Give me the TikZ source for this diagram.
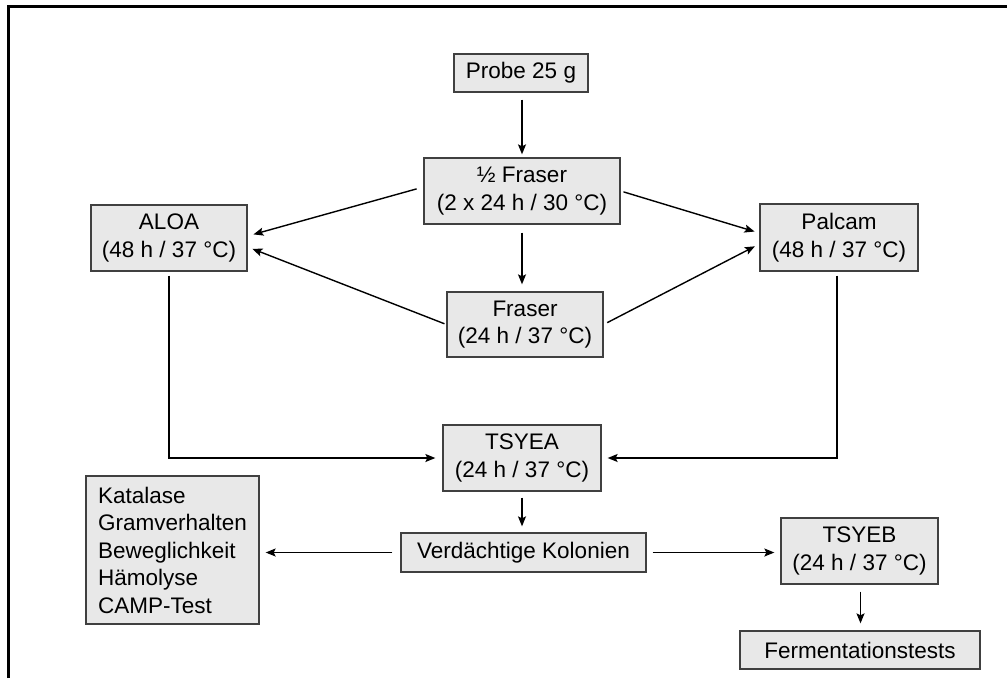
\documentclass[tikz,border=0pt]{standalone}
\usepackage{fontspec}
\setmainfont{Liberation Sans}
\usetikzlibrary{arrows.meta,calc}
\definecolor{boxfill}{HTML}{E8E8E8}
\definecolor{boxline}{HTML}{404040}
\begin{document}
\begin{tikzpicture}[x=1pt,y=-1pt,
  box/.style={draw=boxline, fill=boxfill, line width=1.3pt, inner sep=0pt, align=center,
    font=\fontsize{22.5}{27.5}\selectfont},
  arr/.style={line width=1.4pt, -{Stealth[length=10pt,width=8pt,inset=2pt]}},
  ln/.style={line width=1.4pt}]
\useasboundingbox (0,0) rectangle (1007,678);
\fill[white] (0,0) rectangle (1007,678);
% frame
\coordinate (fTL) at (8.3,6.7);
\coordinate (fTR) at (1007,6.7);
\coordinate (fBL) at (8.3,678);
\draw[line width=2.5pt] (fBL) -- (fTL) -- (fTR);
% nodes
\node[box, minimum width=134pt, minimum height=38pt] (probe) at (521,73) {Probe 25 g};
\node[box, minimum width=196pt, minimum height=66pt] (half) at (522,191) {½ Fraser\\(2 x 24 h / 30 °C)};
\node[box, minimum width=156pt, minimum height=65pt] (fraser) at (525,324.5) {Fraser\\(24 h / 37 °C)};
\node[box, minimum width=156pt, minimum height=66pt] (aloa) at (169,238) {ALOA\\(48 h / 37 °C)};
\node[box, minimum width=158pt, minimum height=67pt] (palcam) at (839,237.5) {Palcam\\(48 h / 37 °C)};
\node[box, minimum width=158pt, minimum height=66pt] (tsyea) at (522,458) {TSYEA\\(24 h / 37 °C)};
\node[box, align=left, minimum width=173pt, minimum height=148pt] (list) at (172.5,550) {Katalase\\Gramverhalten\\Beweglichkeit\\Hämolyse\\CAMP-Test};
\node[box, minimum width=245pt, minimum height=39pt] (verd) at (523.5,552.5) {Verdächtige Kolonien};
\node[box, minimum width=157pt, minimum height=66pt] (tsyeb) at (859.5,551) {TSYEB\\(24 h / 37 °C)};
\node[box, minimum width=240pt, minimum height=38pt] (ferm) at (860,650) {Fermentationstests};
% connectors
\draw[arr, shorten <=7pt, shorten >=3pt] (half.north |- probe.south) -- (half.north);
\draw[arr, shorten <=8pt, shorten >=7pt] (half.south) -- (half.south |- fraser.north);
\draw[arr, shorten <=7pt, shorten >=6pt] ([yshift=4pt]half.west) -- ([yshift=2pt]aloa.east);
\draw[arr, shorten <=2pt, shorten >=5pt] (fraser.west) -- ([yshift=-9pt]aloa.east);
\draw[arr, shorten <=3pt, shorten >=5pt] (half.east) -- ([yshift=4.5pt]palcam.west);
\draw[arr, shorten <=4pt, shorten >=5pt] (fraser.east) -- ([yshift=-6.5pt]palcam.west);
\draw[arr, shorten <=4pt, shorten >=7pt] (aloa.south) -- (aloa.south |- tsyea.west) -- (tsyea.west);
\draw[arr, shorten <=4pt, shorten >=6pt] ([xshift=-2pt]palcam.south) -- ([xshift=-2pt]palcam.south |- tsyea.east) -- (tsyea.east);
\draw[arr, shorten <=6pt, shorten >=6pt] (tsyea.south) -- (tsyea.south |- verd.north);
\draw[arr, shorten <=8pt, shorten >=6pt] (verd.west) -- (verd.west -| list.east);
\draw[arr, shorten <=6pt, shorten >=6pt] (verd.east) -- (verd.east -| tsyeb.west);
\draw[arr, shorten <=7pt, shorten >=7pt] ([xshift=1pt]tsyeb.south) -- ([xshift=1pt]tsyeb.south |- ferm.north);
\end{tikzpicture}
\end{document}
